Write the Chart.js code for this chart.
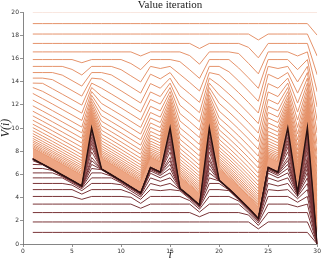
<!DOCTYPE html>
<html>
<head>
<meta charset="utf-8">
<script src="https://cdn.jsdelivr.net/npm/chart.js@4"></script>
<style>
  html, body { margin: 0; padding: 0; background: #fff; }
</style>
</head>
<body>
<canvas id="chart" width="322" height="263"></canvas>
<script>
// states i = 1..30
const states = [1,2,3,4,5,6,7,8,9,10,11,12,13,14,15,16,17,18,19,20,21,22,23,24,25,26,27,28,29,30];
const xTicks = [0, 5, 10, 15, 20, 25, 30];
const yTicks = [0, 2, 4, 6, 8, 10, 12, 14, 16, 18, 20];

// final (converged) value function
const converged = [7.33,6.88,6.42,5.95,5.48,5.0,10,6.47,5.97,5.46,4.93,4.4,6.6,6.2,10,4.8,4.1,3.36,10,5.5,4.75,3.95,3.1,2.2,6.6,6.2,10,4.4,10,0];

// iterates started from V = 20 (iteration numbers and values)
const aboveIters = [0,1,2,3,4,5,6,7,8,9,10,11,12,13,14,15,16,17,18,19,20,21,22,23,24,25,26,27];
const fromAbove = [
  [20,20,20,20,20,20,20,20,20,20,20,20,20,20,20,20,20,20,20,20,20,20,20,20,20,20,20,20,20,20],
  [19,19,19,19,19,19,19,19,19,19,19,19,19,19,19,19,19,19,19,19,19,19,19,19,19,19,19,19,19,18],
  [18.1,18.1,18.1,18.1,18.1,18.1,18.1,18.1,18.1,18.1,18.1,18.1,18.1,18.1,18.1,18.1,18.1,18.1,18.1,18.1,18.1,18.1,18.1,17.59,18.1,18.1,18.1,18.1,18.1,16.2],
  [17.29,17.29,17.29,17.29,17.29,17.29,17.29,17.29,17.29,17.29,17.29,17.29,17.29,17.29,17.29,17.29,17.29,16.85,17.29,17.29,17.29,17.29,16.95,16.05,17.29,17.29,17.29,17.29,17.29,14.58],
  [16.56,16.56,16.56,16.56,16.56,16.56,16.56,16.56,16.56,16.56,16.56,16.21,16.56,16.56,16.56,16.56,16.24,15.5,16.56,16.56,16.56,16.42,15.57,14.67,16.56,16.56,16.56,16.21,16.56,13.12],
  [15.9,15.9,15.9,15.9,15.9,15.63,15.9,15.9,15.9,15.9,15.56,15.03,15.9,15.9,15.9,15.72,15.02,14.28,15.9,15.9,15.9,15.17,14.32,13.42,15.9,15.9,15.9,15.03,15.9,11.81],
  [15.31,15.31,15.31,15.31,15.05,14.57,15.31,15.31,15.31,15.03,14.5,13.97,15.31,15.13,15.31,14.63,13.93,13.19,15.31,15.31,14.85,14.05,13.2,12.3,15.31,15.13,15.31,13.97,15.31,10.63],
  [14.78,14.78,14.78,14.56,14.09,13.61,14.78,14.78,14.58,14.07,13.54,13.01,14.64,14.24,14.78,13.65,12.95,12.21,14.78,14.59,13.84,13.04,12.19,11.29,14.64,14.24,14.78,13.01,14.78,9.57],
  [14.3,14.3,14.17,13.7,13.23,12.75,14.3,14.22,13.72,13.21,12.68,12.15,13.83,13.43,14.3,12.76,12.06,11.32,14.3,13.68,12.93,12.13,11.28,10.38,13.83,13.43,14.3,12.15,14.3,8.61],
  [13.87,13.85,13.39,12.92,12.45,11.97,13.87,13.44,12.94,12.43,11.9,11.37,13.11,12.71,13.87,11.97,11.27,10.53,13.87,12.86,12.11,11.31,10.46,9.56,13.11,12.71,13.87,11.37,13.87,7.75],
  [13.49,13.16,12.7,12.23,11.76,11.28,13.49,12.75,12.25,11.74,11.21,10.68,12.46,12.06,13.49,11.25,10.55,9.81,13.49,12.13,11.38,10.58,9.73,8.83,12.46,12.06,13.49,10.68,13.49,6.97],
  [12.98,12.53,12.07,11.6,11.13,10.65,13.14,12.12,11.62,11.11,10.58,10.05,11.87,11.47,13.14,10.61,9.91,9.17,13.14,11.46,10.71,9.91,9.06,8.16,11.87,11.47,13.14,10.05,13.14,6.28],
  [12.41,11.96,11.5,11.03,10.56,10.08,12.82,11.55,11.05,10.54,10.01,9.48,11.34,10.94,12.82,10.02,9.32,8.58,12.82,10.87,10.12,9.32,8.47,7.57,11.34,10.94,12.82,9.48,12.82,5.65],
  [11.91,11.46,11.0,10.53,10.06,9.58,12.54,11.05,10.55,10.04,9.51,8.98,10.87,10.47,12.54,9.5,8.8,8.06,12.54,10.33,9.58,8.78,7.93,7.03,10.87,10.47,12.54,8.98,12.54,5.08],
  [11.45,11.0,10.54,10.07,9.6,9.12,12.29,10.59,10.09,9.58,9.05,8.52,10.44,10.04,12.29,9.03,8.33,7.59,12.29,9.85,9.1,8.3,7.45,6.55,10.44,10.04,12.29,8.52,12.29,4.58],
  [11.04,10.59,10.13,9.66,9.19,8.71,12.06,10.18,9.68,9.17,8.64,8.11,10.06,9.66,12.06,8.61,7.91,7.17,12.06,9.41,8.66,7.86,7.01,6.11,10.06,9.66,12.06,8.11,12.06,4.12],
  [10.67,10.22,9.76,9.29,8.82,8.34,11.85,9.81,9.31,8.8,8.27,7.74,9.71,9.31,11.85,8.23,7.53,6.79,11.85,9.02,8.27,7.47,6.62,5.72,9.71,9.31,11.85,7.74,11.85,3.71],
  [10.33,9.88,9.42,8.95,8.48,8.0,11.67,9.47,8.97,8.46,7.93,7.4,9.4,9.0,11.67,7.89,7.19,6.45,11.67,8.67,7.92,7.12,6.27,5.37,9.4,9.0,11.67,7.4,11.67,3.34],
  [10.03,9.58,9.12,8.65,8.18,7.7,11.5,9.17,8.67,8.16,7.63,7.1,9.12,8.72,11.5,7.58,6.88,6.14,11.5,8.35,7.6,6.8,5.95,5.05,9.12,8.72,11.5,7.1,11.5,3.0],
  [9.76,9.31,8.85,8.38,7.91,7.43,11.35,8.9,8.4,7.89,7.36,6.83,8.87,8.47,11.35,7.3,6.6,5.86,11.35,8.07,7.32,6.52,5.67,4.77,8.87,8.47,11.35,6.83,11.35,2.7],
  [9.52,9.07,8.61,8.14,7.67,7.19,11.22,8.66,8.16,7.65,7.12,6.59,8.64,8.24,11.22,7.05,6.35,5.61,11.22,7.81,7.06,6.26,5.41,4.51,8.64,8.24,11.22,6.59,11.22,2.43],
  [9.3,8.85,8.39,7.92,7.45,6.97,11.09,8.44,7.94,7.43,6.9,6.37,8.44,8.04,11.09,6.82,6.12,5.38,11.09,7.58,6.83,6.03,5.18,4.28,8.44,8.04,11.09,6.37,11.09,2.19],
  [9.1,8.65,8.19,7.72,7.25,6.77,10.98,8.24,7.74,7.23,6.7,6.17,8.25,7.85,10.98,6.62,5.92,5.18,10.98,7.37,6.62,5.82,4.97,4.07,8.25,7.85,10.98,6.17,10.98,1.97],
  [8.92,8.47,8.01,7.54,7.07,6.59,10.89,8.06,7.56,7.05,6.52,5.99,8.09,7.69,10.89,6.44,5.74,5.0,10.89,7.18,6.43,5.63,4.78,3.88,8.09,7.69,10.89,5.99,10.89,1.77],
  [8.77,8.32,7.86,7.39,6.92,6.44,10.8,7.91,7.41,6.9,6.37,5.84,7.94,7.54,10.8,6.28,5.58,4.84,10.8,7.02,6.27,5.47,4.62,3.72,7.94,7.54,10.8,5.84,10.8,1.6],
  [8.62,8.17,7.71,7.24,6.77,6.29,10.72,7.76,7.26,6.75,6.22,5.69,7.81,7.41,10.72,6.13,5.43,4.69,10.72,6.86,6.11,5.31,4.46,3.56,7.81,7.41,10.72,5.69,10.72,1.44],
  [8.49,8.04,7.58,7.11,6.64,6.16,10.65,7.63,7.13,6.62,6.09,5.56,7.69,7.29,10.65,6.0,5.3,4.56,10.65,6.73,5.98,5.18,4.33,3.43,7.69,7.29,10.65,5.56,10.65,1.29],
  [8.38,7.93,7.47,7.0,6.53,6.05,10.58,7.52,7.02,6.51,5.98,5.45,7.58,7.18,10.58,5.87,5.17,4.43,10.58,6.6,5.85,5.05,4.2,3.3,7.58,7.18,10.58,5.45,10.58,1.16]
];
// upper edge of the dense band of later iterates above the converged line
const aboveBand = [8.27,7.82,7.36,6.89,6.42,5.94,10.52,7.41,6.91,6.4,5.87,5.34,7.48,7.08,10.52,5.77,5.07,4.33,10.52,6.49,5.74,4.94,4.09,3.19,7.48,7.08,10.52,5.34,10.52,1.05];

// iterates started from V = 0
const belowIters = [1,2,3,4,5,6,7,8,9,10,11,12,13,15,17,19,21,24,28,35];
const fromBelow = [
  [1,1,1,1,1,1,1,1,1,1,1,1,1,1,1,1,1,1,1,1,1,1,1,1,1,1,1,1,1,0],
  [1.9,1.9,1.9,1.9,1.9,1.9,1.9,1.9,1.9,1.9,1.9,1.9,1.9,1.9,1.9,1.9,1.9,1.9,1.9,1.9,1.9,1.9,1.9,1.3,1.9,1.9,1.9,1.9,1.9,0],
  [2.71,2.71,2.71,2.71,2.71,2.71,2.71,2.71,2.71,2.71,2.71,2.71,2.71,2.71,2.71,2.71,2.71,2.35,2.71,2.71,2.71,2.71,2.5,1.6,2.71,2.71,2.71,2.71,2.71,0],
  [3.44,3.44,3.44,3.44,3.44,3.44,3.44,3.44,3.44,3.44,3.44,3.08,3.44,3.44,3.44,3.44,3.44,2.75,3.44,3.44,3.44,3.44,2.7,1.8,3.44,3.44,3.44,3.2,3.44,0],
  [4.1,4.1,4.1,4.1,4.1,3.85,4.1,4.1,4.1,4.1,4.03,3.5,4.1,4.1,4.1,4.1,3.74,3.0,4.1,4.1,4.1,3.7,2.85,1.95,4.1,4.1,4.1,3.6,4.1,0],
  [4.69,4.69,4.69,4.69,4.69,4.3,4.69,4.69,4.69,4.69,4.38,3.85,4.69,4.6,4.69,4.59,3.89,3.15,4.69,4.69,4.6,3.8,2.95,2.05,4.69,4.6,4.69,3.9,4.69,0],
  [5.22,5.22,5.22,5.22,5.08,4.6,5.22,5.22,5.22,5.11,4.58,4.05,5.22,5.0,5.22,4.68,3.98,3.24,5.22,5.22,4.65,3.85,3.0,2.1,5.22,5.0,5.22,4.1,5.22,0],
  [5.7,5.7,5.7,5.7,5.24,4.76,5.7,5.7,5.7,5.26,4.73,4.2,5.7,5.4,5.7,4.73,4.03,3.29,5.7,5.44,4.69,3.89,3.04,2.14,5.7,5.4,5.7,4.22,5.7,0],
  [6.13,6.13,6.13,5.81,5.34,4.86,6.13,6.13,5.85,5.34,4.81,4.28,6.1,5.7,6.13,4.76,4.06,3.32,6.13,5.47,4.72,3.92,3.07,2.17,6.1,5.7,6.13,4.3,6.13,0],
  [6.51,6.51,6.34,5.87,5.4,4.92,6.51,6.4,5.9,5.39,4.86,4.33,6.3,5.9,6.51,4.78,4.08,3.34,6.51,5.48,4.73,3.93,3.08,2.18,6.3,5.9,6.51,4.35,6.51,0],
  [6.86,6.83,6.37,5.9,5.43,4.95,6.86,6.43,5.93,5.42,4.89,4.36,6.42,6.02,6.86,4.79,4.09,3.35,6.86,5.49,4.74,3.94,3.09,2.19,6.42,6.02,6.86,4.37,6.86,0],
  [7.18,6.85,6.39,5.92,5.45,4.97,7.18,6.45,5.95,5.44,4.91,4.38,6.5,6.1,7.18,4.8,4.1,3.36,7.18,5.5,4.75,3.95,3.1,2.2,6.5,6.1,7.18,4.38,7.18,0],
  [7.31,6.86,6.4,5.93,5.46,4.98,7.46,6.46,5.96,5.45,4.92,4.39,6.54,6.14,7.46,4.8,4.1,3.36,7.46,5.5,4.75,3.95,3.1,2.2,6.54,6.14,7.46,4.4,7.46,0],
  [7.33,6.88,6.42,5.95,5.48,5.0,7.94,6.47,5.97,5.46,4.93,4.4,6.58,6.18,7.94,4.8,4.1,3.36,7.94,5.5,4.75,3.95,3.1,2.2,6.58,6.18,7.94,4.4,7.94,0],
  [7.33,6.88,6.42,5.95,5.48,5.0,8.33,6.47,5.97,5.46,4.93,4.4,6.6,6.2,8.33,4.8,4.1,3.36,8.33,5.5,4.75,3.95,3.1,2.2,6.6,6.2,8.33,4.4,8.33,0],
  [7.33,6.88,6.42,5.95,5.48,5.0,8.65,6.47,5.97,5.46,4.93,4.4,6.6,6.2,8.65,4.8,4.1,3.36,8.65,5.5,4.75,3.95,3.1,2.2,6.6,6.2,8.65,4.4,8.65,0],
  [7.33,6.88,6.42,5.95,5.48,5.0,8.91,6.47,5.97,5.46,4.93,4.4,6.6,6.2,8.91,4.8,4.1,3.36,8.91,5.5,4.75,3.95,3.1,2.2,6.6,6.2,8.91,4.4,8.91,0],
  [7.33,6.88,6.42,5.95,5.48,5.0,9.2,6.47,5.97,5.46,4.93,4.4,6.6,6.2,9.2,4.8,4.1,3.36,9.2,5.5,4.75,3.95,3.1,2.2,6.6,6.2,9.2,4.4,9.2,0],
  [7.33,6.88,6.42,5.95,5.48,5.0,9.48,6.47,5.97,5.46,4.93,4.4,6.6,6.2,9.48,4.8,4.1,3.36,9.48,5.5,4.75,3.95,3.1,2.2,6.6,6.2,9.48,4.4,9.48,0],
  [7.33,6.88,6.42,5.95,5.48,5.0,9.75,6.47,5.97,5.46,4.93,4.4,6.6,6.2,9.75,4.8,4.1,3.36,9.75,5.5,4.75,3.95,3.1,2.2,6.6,6.2,9.75,4.4,9.75,0]
];

const toPoints = vals => vals.map((v, j) => ({ x: states[j], y: v }));

const datasets = [];

// converged line on top
datasets.push({
  data: toPoints(converged),
  borderColor: '#2a1212',
  borderWidth: 1.5,
  order: 0
});

fromBelow.forEach((vals, n) => {
  datasets.push({
    data: toPoints(vals),
    borderColor: n < 12 ? '#7a3538' : '#8a4545',
    borderWidth: 1,
    order: 1
  });
});

fromAbove.forEach((vals, n) => {
  datasets.push({
    data: toPoints(vals),
    borderColor: aboveIters[n] === 0 ? '#f3d0c2' : '#e5936b',
    borderWidth: 1,
    order: 2
  });
});

// dense band of late iterates: fill down to the converged line (dataset 0)
datasets.push({
  data: toPoints(aboveBand),
  borderColor: '#e8976f',
  borderWidth: 1,
  backgroundColor: '#eda583',
  fill: { target: 0 },
  order: 3
});

new Chart(document.getElementById('chart'), {
  type: 'line',
  data: { datasets },
  options: {
    responsive: false,
    animation: false,
    events: [],
    elements: { point: { radius: 0 }, line: { tension: 0 } },
    layout: { padding: { left: 0, right: 4, top: 0, bottom: 0 } },
    plugins: {
      legend: { display: false },
      tooltip: { enabled: false },
      title: {
        display: true,
        text: 'Value iteration',
        fullSize: false,
        color: '#222',
        font: { family: 'Liberation Serif', size: 11, weight: 'normal', lineHeight: 1 },
        padding: { top: 0, bottom: 1 }
      }
    },
    scales: {
      x: {
        type: 'linear',
        min: 0, max: 30,
        afterBuildTicks: s => { s.ticks = xTicks.map(v => ({ value: v })); },
        afterFit: s => { s.height = 19; },
        ticks: { font: { family: 'DejaVu Sans', size: 6 }, color: '#333', padding: 1, maxRotation: 0 },
        grid: { display: true, drawOnChartArea: false, tickLength: 3, color: '#666', lineWidth: 0.7 },
        border: { display: true, color: '#666', width: 0.8 },
        title: { display: true, text: 'i', color: '#222',
                 font: { family: 'Liberation Serif', size: 12, style: 'italic', lineHeight: 1 },
                 padding: { top: 0, bottom: 2 } }
      },
      y: {
        min: 0, max: 20,
        afterBuildTicks: s => { s.ticks = yTicks.map(v => ({ value: v })); },
        afterFit: s => { s.width = 23; },
        ticks: { font: { family: 'DejaVu Sans', size: 6 }, color: '#333', padding: 1 },
        grid: { display: true, drawOnChartArea: false, tickLength: 3, color: '#666', lineWidth: 0.7 },
        border: { display: true, color: '#666', width: 0.8 },
        title: { display: true, text: 'V(i)', color: '#222',
                 font: { family: 'Liberation Serif', size: 12, style: 'italic', lineHeight: 1 },
                 padding: { top: 0, bottom: 2 } }
      }
    }
  }
});
</script>
</body>
</html>
